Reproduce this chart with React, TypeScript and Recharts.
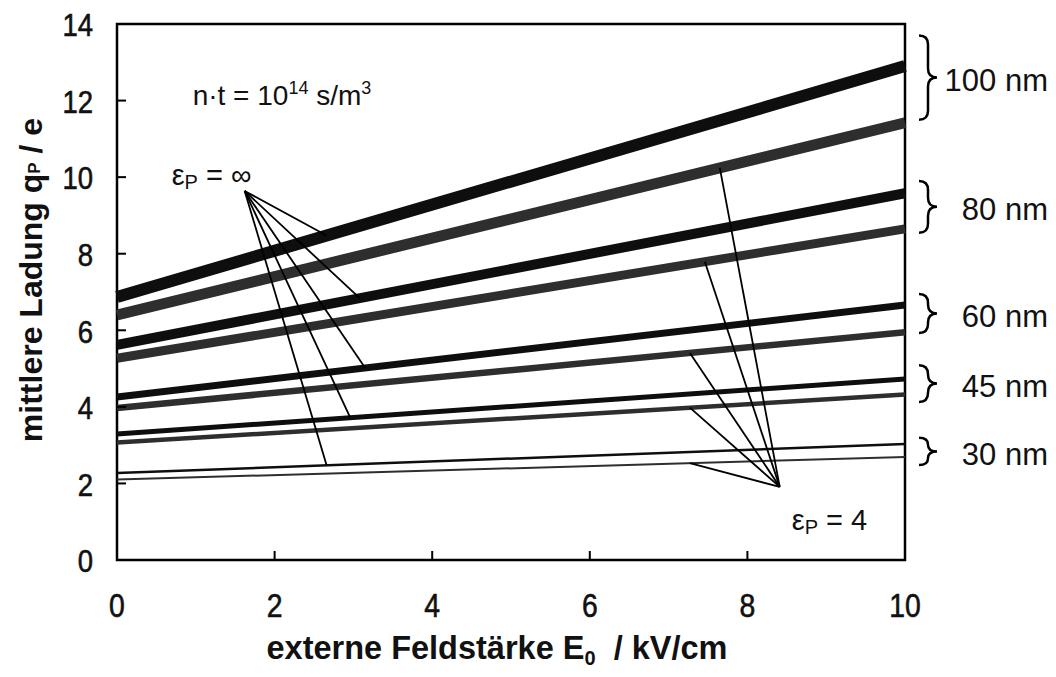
import React from "react";
import {
  LineChart,
  Line,
  XAxis,
  YAxis,
  ReferenceArea,
  ReferenceLine,
  ReferenceDot,
  Label,
} from "recharts";

// field strength E0 in kV/cm (lines are straight, read at both ends)
const fieldStrength = [0, 10];

// mean charge qP/e, eps_P = infinity (black) and eps_P = 4 (grey)
const inf100 = [6.87, 12.9];
const four100 = [6.4, 11.42];
const inf80 = [5.62, 9.58];
const four80 = [5.27, 8.65];
const inf60 = [4.26, 6.66];
const four60 = [3.97, 5.95];
const inf45 = [3.29, 4.73];
const four45 = [3.07, 4.32];
const inf30 = [2.27, 3.03];
const four30 = [2.1, 2.69];

const xTicks = [0, 2, 4, 6, 8, 10];
const yTicks = [0, 2, 4, 6, 8, 10, 12, 14];

// particle size braces on the right
const sizeLabels = ["100 nm", "80 nm", "60 nm", "45 nm", "30 nm"];
const braceTop = [13.7, 9.9, 6.95, 5.09, 3.19];
const braceBottom = [11.5, 8.55, 5.93, 4.13, 2.48];

// leader lines for the eps labels
const infOrigin = { x: 1.62, y: 9.64 };
const infLeaderX = [2.66, 3.08, 3.15, 2.96, 2.66];
const fourOrigin = { x: 8.41, y: 1.91 };
const fourLeaderX = [7.65, 7.46, 7.27, 7.27, 7.27];
const noteAt = { x: 0.96, y: 11.88 };

const infSeries = [inf100, inf80, inf60, inf45, inf30];
const fourSeries = [four100, four80, four60, four45, four30];

const yAt = (s: number[], x: number) =>
  s[0] + ((s[1] - s[0]) * (x - fieldStrength[0])) / (fieldStrength[1] - fieldStrength[0]);

const data = fieldStrength.map((x, i) => ({
  x,
  inf100: inf100[i],
  four100: four100[i],
  inf80: inf80[i],
  four80: four80[i],
  inf60: inf60[i],
  four60: four60[i],
  inf45: inf45[i],
  four45: four45[i],
  inf30: inf30[i],
  four30: four30[i],
}));

const FONT = "'Liberation Sans', Arial, Helvetica, sans-serif";
const BLACK = "#0e0e0e";
const GREY = "#2e2e2e";

const XTick = (props: any) => {
  const { x, y, payload } = props;
  return (
    <g>
      <line x1={x} x2={x} y1={y} y2={y - 9} stroke="#000" strokeWidth={2} />
      <text
        transform={`translate(${x},${y + 46}) scale(0.86,1)`}
        textAnchor="middle"
        dominantBaseline="central"
        fontFamily={FONT}
        fontSize={33}
        fill="#111"
        stroke="#111"
        strokeWidth={0.6}
      >
        {payload.value}
      </text>
    </g>
  );
};

const YTick = (props: any) => {
  const { x, y, payload } = props;
  return (
    <g>
      <line x1={x} x2={x + 9} y1={y} y2={y} stroke="#000" strokeWidth={2} />
      <text
        transform={`translate(${x - 24},${y + 1}) scale(0.86,1)`}
        textAnchor="end"
        dominantBaseline="central"
        fontFamily={FONT}
        fontSize={32}
        fill="#111"
        stroke="#111"
        strokeWidth={0.6}
      >
        {payload.value}
      </text>
    </g>
  );
};

const Brace = (props: any) => {
  const { x1, y1, y2, text } = props;
  const x0 = x1 + 14;
  const w = 18;
  const yT = Math.min(y1, y2);
  const yB = Math.max(y1, y2);
  const ym = (yT + yB) / 2;
  const r = Math.min(9, (yB - yT) / 4);
  const xm = x0 + w / 2;
  const d = `M${x0},${yT} Q${xm},${yT} ${xm},${yT + r} L${xm},${ym - r} Q${xm},${ym} ${x0 + w},${ym} Q${xm},${ym} ${xm},${ym + r} L${xm},${yB - r} Q${xm},${yB} ${x0},${yB}`;
  return (
    <g>
      <path d={d} fill="none" stroke="#000" strokeWidth={2.5} />
      <text
        x={x1 + 143}
        y={ym + 3}
        textAnchor="end"
        dominantBaseline="central"
        fontFamily={FONT}
        fontSize={31}
        fill="#111"
      >
        {text}
      </text>
    </g>
  );
};

const EpsLabel = (props: any) => {
  const { cx, cy, dx, dy, value } = props;
  return (
    <text x={cx + dx} y={cy + dy} fontFamily={FONT} fontSize={29} fill="#111">
      ε
      <tspan fontSize={20} dy={4}>
        P
      </tspan>
      <tspan dy={-4}>{` = ${value}`}</tspan>
    </text>
  );
};

const Note = (props: any) => {
  const { cx, cy } = props;
  return (
    <text x={cx} y={cy} fontFamily={FONT} fontSize={28} fill="#111">
      n·t = 10
      <tspan fontSize={18} dy={-11}>
        14
      </tspan>
      <tspan dy={11}> s/m</tspan>
      <tspan fontSize={18} dy={-11}>
        3
      </tspan>
    </text>
  );
};

export default function App() {
  return (
    <LineChart
      width={1040}
      height={661}
      data={data}
      margin={{ top: 16, right: 143, bottom: 0, left: 0 }}
      style={{ overflow: "visible" }}
    >
      <XAxis
        dataKey="x"
        type="number"
        domain={[0, 10]}
        ticks={xTicks}
        height={109}
        axisLine={false}
        tickLine={false}
        tickSize={0}
        tickMargin={0}
        tick={<XTick />}
        interval={0}
      >
        <Label
          content={(p: any) => {
            const vb = p.viewBox;
            return (
              <text
                x={vb.x + vb.width / 2 - 14}
                y={vb.y + 99}
                textAnchor="middle"
                fontFamily={FONT}
                fontWeight="bold"
                fontSize={32.5}
                fill="#111"
              >
                externe Feldstärke E
                <tspan fontSize={20} dy={6}>
                  0
                </tspan>
                <tspan dy={-6}>{"\u00a0\u00a0/ kV/cm"}</tspan>
              </text>
            );
          }}
        />
      </XAxis>
      <YAxis
        type="number"
        domain={[0, 14]}
        ticks={yTicks}
        width={109}
        axisLine={false}
        tickLine={false}
        tickSize={0}
        tickMargin={0}
        tick={<YTick />}
        interval={0}
      >
        <Label
          content={(p: any) => {
            const vb = p.viewBox;
            const cx = vb.x + 23;
            const cy = vb.y + vb.height / 2 - 12;
            return (
              <text
                transform={`translate(${cx},${cy}) rotate(-90)`}
                textAnchor="middle"
                dominantBaseline="central"
                fontFamily={FONT}
                fontWeight="bold"
                fontSize={32}
                fill="#111"
              >
                mittlere Ladung q
                <tspan fontSize={17} dy={3}>
                  P
                </tspan>
                <tspan dy={-3}> / e</tspan>
              </text>
            );
          }}
        />
      </YAxis>

      <Line dataKey="four30" stroke={GREY} strokeWidth={2} dot={false} activeDot={false} isAnimationActive={false} />
      <Line dataKey="inf30" stroke={BLACK} strokeWidth={2.5} dot={false} activeDot={false} isAnimationActive={false} />
      <Line dataKey="four45" stroke={GREY} strokeWidth={4.5} dot={false} activeDot={false} isAnimationActive={false} />
      <Line dataKey="inf45" stroke={BLACK} strokeWidth={5} dot={false} activeDot={false} isAnimationActive={false} />
      <Line dataKey="four60" stroke={GREY} strokeWidth={6.5} dot={false} activeDot={false} isAnimationActive={false} />
      <Line dataKey="inf60" stroke={BLACK} strokeWidth={7} dot={false} activeDot={false} isAnimationActive={false} />
      <Line dataKey="four80" stroke={GREY} strokeWidth={9} dot={false} activeDot={false} isAnimationActive={false} />
      <Line dataKey="inf80" stroke={BLACK} strokeWidth={10} dot={false} activeDot={false} isAnimationActive={false} />
      <Line dataKey="four100" stroke={GREY} strokeWidth={11} dot={false} activeDot={false} isAnimationActive={false} />
      <Line dataKey="inf100" stroke={BLACK} strokeWidth={12} dot={false} activeDot={false} isAnimationActive={false} />

      {infLeaderX.map((lx, i) => (
        <ReferenceLine
          key={`inf-${i}`}
          segment={[infOrigin, { x: lx, y: yAt(infSeries[i], lx) }]}
          stroke="#000"
          strokeWidth={1.8}
        />
      ))}
      {fourLeaderX.map((lx, i) => (
        <ReferenceLine
          key={`four-${i}`}
          segment={[fourOrigin, { x: lx, y: yAt(fourSeries[i], lx) }]}
          stroke="#000"
          strokeWidth={1.8}
        />
      ))}

      {sizeLabels.map((t, i) => (
        <ReferenceLine
          key={t}
          segment={[
            { x: 10, y: braceTop[i] },
            { x: 10, y: braceBottom[i] },
          ]}
          ifOverflow="visible"
          shape={(p: any) => <Brace {...p} text={t} />}
        />
      ))}

      <ReferenceDot
        x={infOrigin.x}
        y={infOrigin.y}
        r={0}
        shape={(p: any) => <EpsLabel cx={p.cx} cy={p.cy} dx={-73} dy={-6} value="∞" />}
      />
      <ReferenceDot
        x={fourOrigin.x}
        y={fourOrigin.y}
        r={0}
        shape={(p: any) => <EpsLabel cx={p.cx} cy={p.cy} dx={12} dy={43} value="4" />}
      />
      <ReferenceDot x={noteAt.x} y={noteAt.y} r={0} shape={(p: any) => <Note cx={p.cx} cy={p.cy} />} />

      <ReferenceArea x1={0} x2={10} y1={0} y2={14} fill="none" stroke="#000" strokeWidth={2.5} ifOverflow="visible" />
    </LineChart>
  );
}
